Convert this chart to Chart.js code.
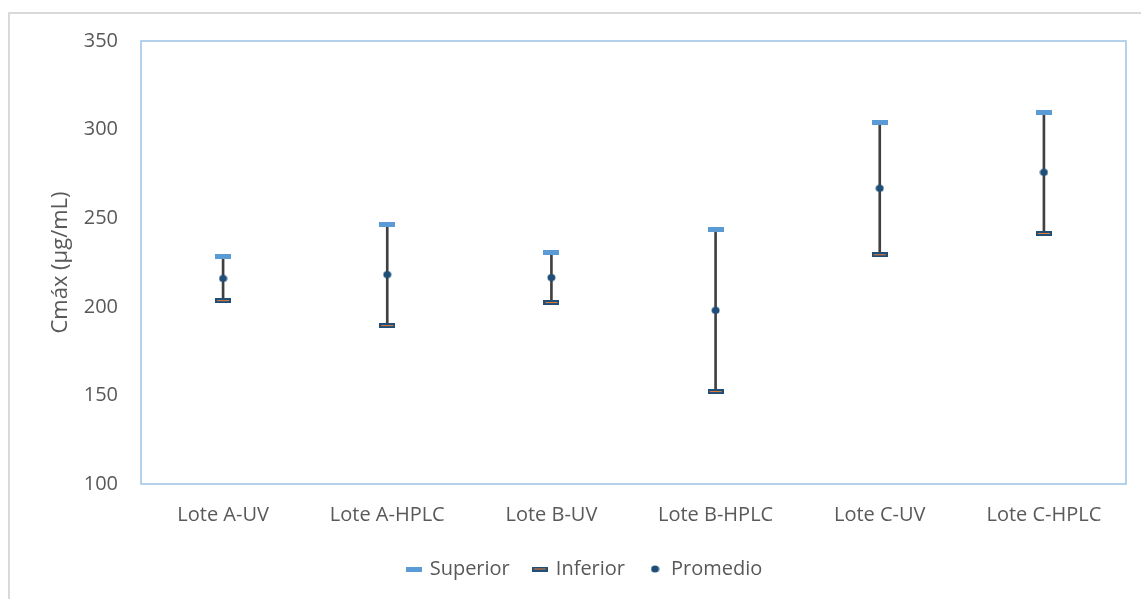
<!DOCTYPE html>
<html>
<head>
<meta charset="utf-8">
<script src="https://cdn.jsdelivr.net/npm/chart.js@4.4.0/dist/chart.umd.min.js"></script>
<style>
  html, body { margin: 0; padding: 0; background: #ffffff; }
  #frame { position: absolute; left: 8px; top: 12px; width: 1133px; height: 587px;
           border-top: 2px solid #d9d9d9; border-left: 2px solid #d9d9d9; box-sizing: border-box; }
  #wrap { position: absolute; left: 0; top: 0; width: 1141px; height: 599px; }
</style>
</head>
<body>
<div id="frame"></div>
<div id="wrap"><canvas id="chart" width="1141" height="599"></canvas></div>
<script>
// Data
const lotes = ['Lote A-UV', 'Lote A-HPLC', 'Lote B-UV', 'Lote B-HPLC', 'Lote C-UV', 'Lote C-HPLC'];
const superior = [228.4, 246.5, 230.7, 243.5, 304.0, 309.8];
const inferior = [203.5, 189.4, 202.4, 152.2, 229.4, 241.4];
const promedio = [216.0, 218.2, 216.5, 198.0, 266.9, 275.9];

// Marker images (Excel-like dashes and dot)
function makeDash(fill, inner) {
    const c = document.createElement('canvas');
    c.width = 16; c.height = 5;
    const g = c.getContext('2d');
    g.fillStyle = fill;
    g.fillRect(0, 0, 16, 5);
    if (inner) {
        g.fillStyle = inner;
        g.fillRect(2, 2, 12, 1);
    }
    return c;
}
function makeDot(color) {
    const c = document.createElement('canvas');
    c.width = 9; c.height = 8;
    const g = c.getContext('2d');
    g.fillStyle = color;
    g.beginPath();
    g.ellipse(4.5, 4, 4, 3.5, 0, 0, Math.PI * 2);
    g.fill();
    return c;
}
const supMark = makeDash('#5B9BD5');
const infMark = makeDash('#1F4E79', '#ED7D31');
const avgMark = makeDot('#1F4E79');

const plotBorder = {
    id: 'plotBorder',
    afterDraw(chart) {
        const a = chart.chartArea, g = chart.ctx;
        g.save();
        g.strokeStyle = '#9DC3E6';
        g.lineWidth = 1.5;
        g.strokeRect(a.left, a.top, a.right - a.left, a.bottom - a.top);
        g.restore();
    }
};

const font = { family: 'Open Sans', size: 20 };

const ctx = document.getElementById('chart').getContext('2d');
new Chart(ctx, {
    data: {
        labels: lotes,
        datasets: [
            {
                type: 'bar',
                label: 'range',
                data: lotes.map((l, i) => [inferior[i], superior[i]]),
                backgroundColor: '#404040',
                barThickness: 2,
                order: 10
            },
            {
                type: 'line',
                label: 'Superior',
                data: superior,
                showLine: false,
                pointStyle: supMark,
                order: 2
            },
            {
                type: 'line',
                label: 'Inferior',
                data: inferior,
                showLine: false,
                pointStyle: infMark,
                order: 2
            },
            {
                type: 'line',
                label: 'Promedio',
                data: promedio,
                showLine: false,
                pointStyle: avgMark,
                order: 1
            }
        ]
    },
    options: {
        responsive: false,
        animation: false,
        layout: { padding: { left: 44, top: 41, right: 15, bottom: 10 } },
        plugins: {
            tooltip: { enabled: false },
            legend: {
                position: 'bottom',
                labels: {
                    usePointStyle: true,
                    pointStyleWidth: 12,
                    padding: 24,
                    color: '#595959',
                    font: font,
                    filter: item => item.text !== 'range',
                    sort: (a, b) => a.datasetIndex - b.datasetIndex
                }
            }
        },
        scales: {
            x: {
                grid: { display: false, drawTicks: false },
                border: { display: false },
                ticks: { color: '#595959', font: font, padding: 19, maxRotation: 0 },
                afterFit: s => { s.height = 51; }
            },
            y: {
                min: 100,
                max: 350,
                grid: { display: false, drawTicks: false },
                border: { display: false },
                ticks: { stepSize: 50, color: '#595959', font: font, padding: 23 },
                title: {
                    display: true,
                    text: 'Cmáx (µg/mL)',
                    color: '#595959',
                    font: { family: 'Open Sans', size: 22 },
                    padding: { top: 4, bottom: 0 }
                },
                afterFit: s => { s.width = 97; }
            }
        }
    },
    plugins: [plotBorder]
});
</script>
</body>
</html>
